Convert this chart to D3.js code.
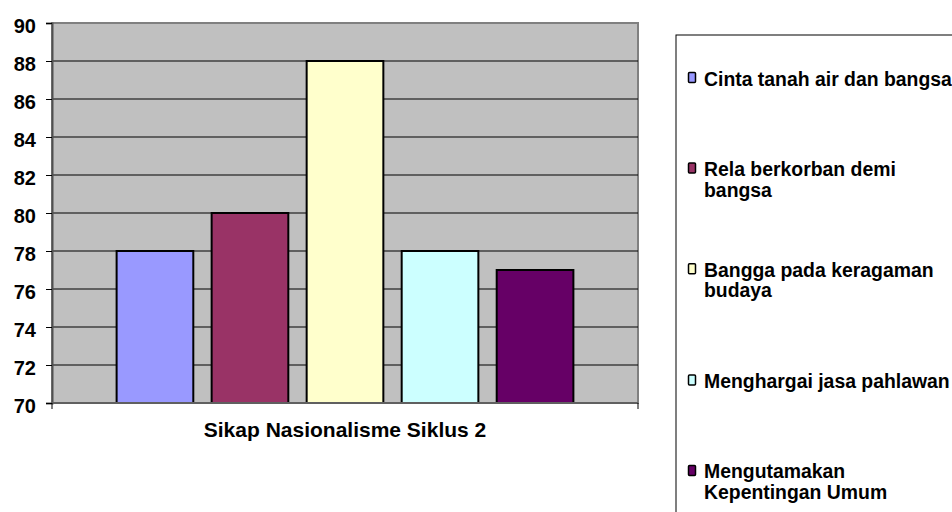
<!DOCTYPE html>
<html>
<head>
<meta charset="utf-8">
<script src="https://cdn.jsdelivr.net/npm/d3@7/dist/d3.min.js"></script>
<style>
  html, body { margin: 0; padding: 0; background: #fff; }
  svg { display: block; font-family: "Liberation Sans", Arial, sans-serif; font-weight: bold; }
</style>
</head>
<body>
<svg id="chart" width="952" height="512"></svg>
<script>
// ---- data ----
const category = "Sikap Nasionalisme Siklus 2";
const seriesNames = [
  "Cinta tanah air dan bangsa",
  "Rela berkorban demi bangsa",
  "Bangga pada keragaman budaya",
  "Menghargai jasa pahlawan",
  "Mengutamakan Kepentingan Umum"
];
const seriesValues = [78, 80, 88, 78, 77];
const seriesColors = ["#9999FF", "#993366", "#FFFFCC", "#CCFFFF", "#660066"];
const yTicks = [70, 72, 74, 76, 78, 80, 82, 84, 86, 88, 90];

// ---- layout ----
const svg = d3.select("#chart");
const plot = { left: 52, top: 23, right: 638, bottom: 403 };

const y = d3.scaleLinear().domain([70, 90]).range([plot.bottom, plot.top]);
const x = d3.scaleBand()
  .domain(seriesNames)
  .range([plot.left, plot.right])
  .paddingInner(0.193)
  .paddingOuter(0.68);

// plot background
svg.append("rect")
  .attr("x", plot.left).attr("y", plot.top)
  .attr("width", plot.right - plot.left).attr("height", plot.bottom - plot.top)
  .attr("fill", "#C0C0C0")
  .attr("stroke", "#808080").attr("stroke-width", 2);

// gridlines
svg.append("g").selectAll("line")
  .data(yTicks.filter(t => t > 70 && t < 90))
  .join("line")
  .attr("x1", plot.left).attr("x2", plot.right)
  .attr("y1", d => y(d)).attr("y2", d => y(d))
  .attr("stroke", "#000").attr("stroke-width", 1);

// bars
svg.append("g").selectAll("rect")
  .data(seriesNames.map((n, i) => ({ name: n, value: seriesValues[i], color: seriesColors[i] })))
  .join("rect")
  .attr("x", d => x(d.name))
  .attr("width", x.bandwidth())
  .attr("y", d => y(d.value))
  .attr("height", d => y(70) - y(d.value))
  .attr("fill", d => d.color)
  .attr("stroke", "#000").attr("stroke-width", 2);

// y axis
const yAxis = d3.axisLeft(y).tickValues(yTicks).tickSize(6).tickPadding(10).tickFormat(d3.format("d"));
const gy = svg.append("g").attr("transform", `translate(${plot.left},0)`).call(yAxis);
gy.select(".domain").attr("stroke", "#505050").attr("stroke-width", 2);
gy.selectAll(".tick line").attr("stroke", "#000");
gy.selectAll(".tick text")
  .attr("font-family", "'Liberation Sans', Arial, sans-serif")
  .attr("font-weight", "bold")
  .attr("font-size", 20)
  .attr("dy", "0.47em")
  .attr("fill", "#000");

// x axis (single category, ticks at both ends)
const xCat = d3.scaleBand().domain([category]).range([plot.left, plot.right]);
const gx = svg.append("g").attr("transform", `translate(0,${plot.bottom})`);
gx.append("line")
  .attr("x1", plot.left).attr("x2", plot.right)
  .attr("stroke", "#606060").attr("stroke-width", 2);
gx.selectAll("line.tk")
  .data(xCat.range())
  .join("line").attr("class", "tk")
  .attr("x1", d => d).attr("x2", d => d)
  .attr("y1", 0).attr("y2", 6)
  .attr("stroke", "#000");
gx.append("text")
  .attr("x", xCat(category) + xCat.bandwidth() / 2)
  .attr("y", 34)
  .attr("text-anchor", "middle")
  .attr("font-size", 21)
  .attr("fill", "#000")
  .text(category);

// legend
const legend = { x: 676, y: 35 };
svg.append("rect")
  .attr("x", legend.x).attr("y", legend.y)
  .attr("width", 320).attr("height", 520)
  .attr("fill", "#fff").attr("stroke", "#000").attr("stroke-width", 1);

const legendFont = 19.4, lineH = 20.5, maxW = 254;
const measurer = svg.append("text").attr("font-size", legendFont).attr("visibility", "hidden");
function wrap(str) {
  const words = str.split(" ");
  const lines = [];
  let cur = "";
  words.forEach(w => {
    const test = cur ? cur + " " + w : w;
    measurer.text(test);
    if (cur && measurer.node().getComputedTextLength() > maxW) {
      lines.push(cur); cur = w;
    } else cur = test;
  });
  if (cur) lines.push(cur);
  return lines;
}

const centerStart = 78.5, centerStep = 100.8;
seriesNames.forEach((name, i) => {
  const lines = wrap(name);
  const cy = centerStart + i * centerStep;
  const firstBase = cy - (lines.length - 1) * lineH / 2 + 7;
  const g = svg.append("g");
  g.append("rect")
    .attr("x", 688.5).attr("y", firstBase - 13)
    .attr("width", 7).attr("height", 10)
    .attr("rx", 1)
    .attr("fill", seriesColors[i]).attr("stroke", "#000").attr("stroke-width", 1.5);
  const t = g.append("text").attr("font-size", legendFont).attr("fill", "#000");
  lines.forEach((ln, k) => {
    t.append("tspan").attr("x", 704).attr("y", firstBase + k * lineH).text(ln);
  });
});
measurer.remove();
</script>
</body>
</html>
